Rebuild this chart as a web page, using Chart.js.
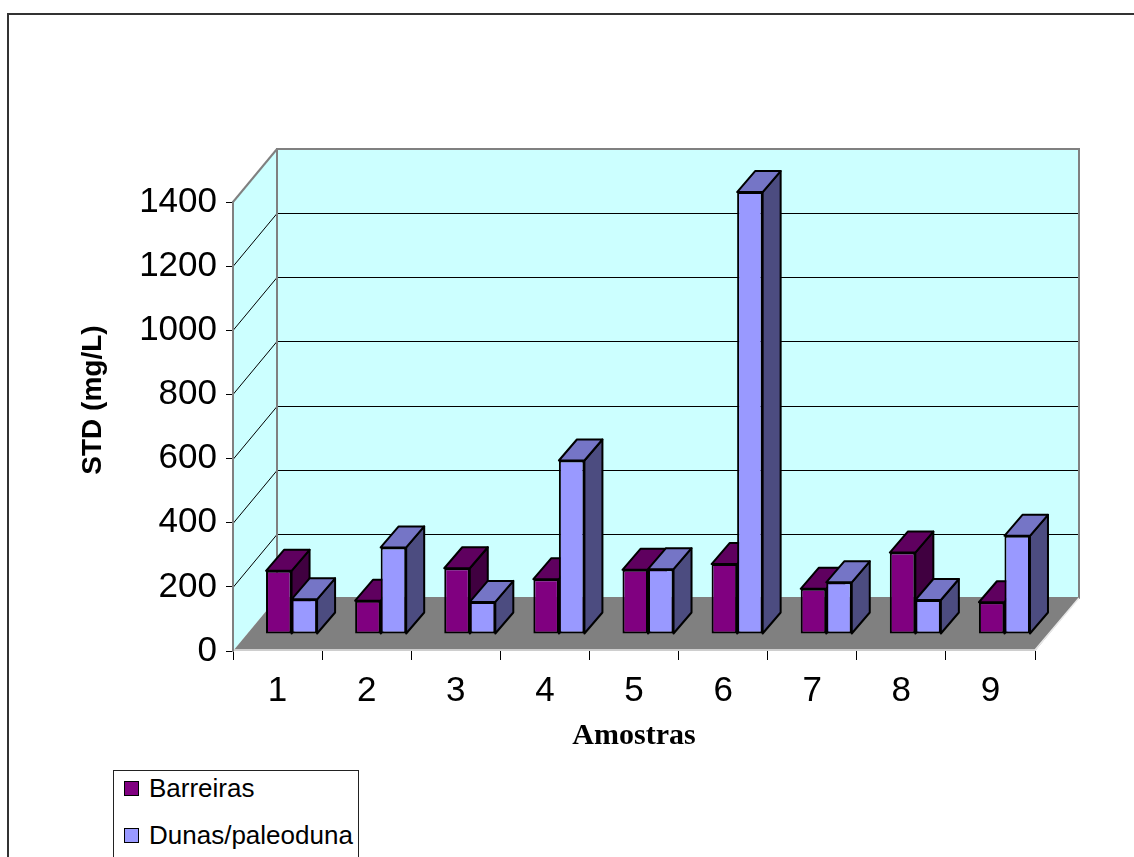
<!DOCTYPE html>
<html>
<head>
<meta charset="utf-8">
<title>STD por amostra</title>
<script src="https://cdn.jsdelivr.net/npm/chart.js@4.4.1/dist/chart.umd.min.js"></script>
<style>
  html, body { margin: 0; padding: 0; background: #fff; overflow: hidden; }
  #wrap { position: relative; width: 1134px; height: 857px; overflow: hidden; }
  #frame { position: absolute; left: 7px; top: 13px; width: 1200px; height: 900px; border: 2px solid #333; }
  #stdChart { position: absolute; left: 0; top: 0; }
  #legend {
    position: absolute; left: 113px; top: 770px; width: 244px; height: 120px;
    border: 1px solid #222; background: #fff;
    font: 26px Arial, "Liberation Sans", sans-serif; color: #000;
  }
  #legend .item { position: absolute; left: 10px; height: 26px; line-height: 26px; display: flex; align-items: center; white-space: nowrap; }
  #legend .box { width: 13px; height: 13px; border: 1px solid #000; margin-right: 10px; }
</style>
</head>
<body>
<div id="wrap">
  <div id="frame"></div>
  <canvas id="stdChart" width="1134" height="857"></canvas>
  <div id="legend"></div>
</div>
<script>
// Dados
const amostras = ['1', '2', '3', '4', '5', '6', '7', '8', '9'];
const barreiras = [197, 104, 205, 171, 200, 218, 141, 254, 99];
const dunas = [108, 270, 100, 541, 202, 1378, 161, 106, 306];
const yTicks = [0, 200, 400, 600, 800, 1000, 1200, 1400];

const seriesNames = ['Barreiras', 'Dunas/paleoduna'];
const frontColors = ['#800080', '#9999FF'];
const topColors = ['#5F005F', '#7575C6'];
const sideColors = ['#400040', '#4C4C80'];

// Geometria 3D (oblíqua)
const DEPTH_X = 44, DEPTH_Y = -53;   // profundidade do piso até a parede do fundo
const BAR_X = 14, BAR_Y = -17;       // deslocamento das colunas atrás da borda frontal
const BAR_DX = 18, BAR_DY = -21;     // profundidade de cada coluna

const FONT = 'Arial, "Liberation Sans", sans-serif';
Chart.defaults.font.family = FONT;
Chart.defaults.color = '#000';

function poly(ctx, pts, fill, stroke, lw) {
    ctx.beginPath();
    ctx.moveTo(pts[0][0], pts[0][1]);
    for (let i = 1; i < pts.length; i++) ctx.lineTo(pts[i][0], pts[i][1]);
    ctx.closePath();
    if (fill) { ctx.fillStyle = fill; ctx.fill(); }
    if (stroke) { ctx.strokeStyle = stroke; ctx.lineWidth = lw || 1; ctx.stroke(); }
}

function line(ctx, x1, y1, x2, y2, color, lw) {
    ctx.beginPath();
    ctx.moveTo(x1, y1);
    ctx.lineTo(x2, y2);
    ctx.strokeStyle = color;
    ctx.lineWidth = lw || 1;
    ctx.stroke();
}

// faces superior e lateral das colunas
function drawBarFaces(chart, dsIndex) {
    const ctx = chart.ctx;
    ctx.save();
    ctx.lineJoin = 'round';
    chart.getDatasetMeta(dsIndex).data.forEach(function(bar) {
        const p = bar.getProps(['x', 'y', 'base', 'width'], true);
        const l = p.x - p.width / 2 + BAR_X, r = p.x + p.width / 2 + BAR_X;
        const t = p.y + BAR_Y, b = p.base + BAR_Y;
        poly(ctx, [[r, t], [r + BAR_DX, t + BAR_DY], [r + BAR_DX, b + BAR_DY], [r, b]], sideColors[dsIndex], '#000', 2);
        poly(ctx, [[l, t], [l + BAR_DX, t + BAR_DY], [r + BAR_DX, t + BAR_DY], [r, t]], topColors[dsIndex], '#000', 2);
    });
    ctx.restore();
}

const box3d = {
    id: 'box3d',
    beforeDraw(chart) {
        const ctx = chart.ctx;
        const { left, right, top, bottom } = chart.chartArea;
        const yScale = chart.scales.y;
        ctx.save();
        // parede do fundo e parede lateral
        ctx.fillStyle = '#CCFFFF';
        ctx.fillRect(left + DEPTH_X, top + DEPTH_Y, right - left, bottom - top);
        poly(ctx, [[left, top], [left + DEPTH_X, top + DEPTH_Y], [left + DEPTH_X, bottom + DEPTH_Y], [left, bottom]], '#CCFFFF');

        // linhas de grade
        yTicks.forEach(function(v) {
            if (v === 0 || v === yTicks[yTicks.length - 1]) return;
            const py = Math.round(yScale.getPixelForValue(v)) + 0.5;
            line(ctx, left, py, left + DEPTH_X, py + DEPTH_Y, '#000', 1);
            line(ctx, left + DEPTH_X, py + DEPTH_Y, right + DEPTH_X, py + DEPTH_Y, '#000', 1);
        });

        // bordas das paredes
        ctx.lineJoin = 'miter';
        poly(ctx, [[left + DEPTH_X, top + DEPTH_Y], [right + DEPTH_X, top + DEPTH_Y], [right + DEPTH_X, bottom + DEPTH_Y], [left + DEPTH_X, bottom + DEPTH_Y]], null, '#808080', 2);
        line(ctx, left, top, left + DEPTH_X, top + DEPTH_Y, '#808080', 2);

        // piso
        poly(ctx, [[left, bottom], [right, bottom], [right + DEPTH_X, bottom + DEPTH_Y], [left + DEPTH_X, bottom + DEPTH_Y]], '#808080');
        line(ctx, left, bottom - 1, right, bottom - 1, '#E8E8E8', 1.5);
        line(ctx, right, bottom - 1, right + DEPTH_X, bottom + DEPTH_Y, '#E8E8E8', 1.5);
        ctx.restore();
    },
    beforeDatasetsDraw(chart) {
        drawBarFaces(chart, 0);
        chart.ctx.save();
        chart.ctx.translate(BAR_X, BAR_Y);
    },
    afterDatasetsDraw(chart) {
        chart.ctx.restore();
        drawBarFaces(chart, 1);
    },
    afterDraw(chart) {
        const ctx = chart.ctx;
        const { top, bottom } = chart.chartArea;
        ctx.save();
        ctx.translate(93, (top + DEPTH_Y + bottom) / 2);
        ctx.rotate(-Math.PI / 2);
        ctx.font = 'bold 28px ' + FONT;
        ctx.fillStyle = '#000';
        ctx.textAlign = 'center';
        ctx.textBaseline = 'middle';
        ctx.fillText('STD (mg/L)', 0, 0);
        ctx.restore();
    }
};

const seriesData = [barreiras, dunas];

new Chart(document.getElementById('stdChart'), {
    type: 'bar',
    data: {
        labels: amostras,
        datasets: seriesData.map(function(values, i) {
            return {
                label: seriesNames[i],
                data: values,
                backgroundColor: frontColors[i],
                borderColor: '#000',
                borderWidth: 2,
                borderSkipped: false,
                categoryPercentage: 0.573,
                barPercentage: 1.0,
                clip: false
            };
        })
    },
    options: {
        responsive: false,
        animation: false,
        devicePixelRatio: 1,
        layout: { padding: { left: 72, right: 99, top: 202, bottom: 99 } },
        plugins: {
            legend: { display: false },
            tooltip: { enabled: false }
        },
        scales: {
            x: {
                grid: { drawOnChartArea: false, tickLength: 9, color: '#000', offset: true },
                border: { display: false },
                ticks: { font: { size: 35 }, padding: 10, maxRotation: 0, autoSkip: false },
                title: {
                    display: true,
                    text: 'Amostras',
                    font: { family: '"Liberation Serif", "Times New Roman", serif', size: 30, weight: 'bold' },
                    padding: { top: 4, bottom: 4 }
                },
                afterFit: function(scale) { scale.height = 107; }
            },
            y: {
                min: 0,
                max: 1400,
                grid: { drawOnChartArea: false, tickLength: 7, color: '#000' },
                border: { color: '#808080', width: 2 },
                ticks: {
                    font: { size: 35 },
                    padding: 9,
                    callback: function(value) { return String(value); }
                },
                afterBuildTicks: function(scale) {
                    scale.ticks = yTicks.map(function(v) { return { value: v }; });
                },
                afterFit: function(scale) { scale.width = 161; }
            }
        }
    },
    plugins: [box3d]
});

// Legenda
const legend = document.getElementById('legend');
seriesNames.forEach(function(name, i) {
    const item = document.createElement('div');
    item.className = 'item';
    item.style.top = (4 + i * 47) + 'px';
    item.innerHTML = '<span class="box" style="background:' + frontColors[i] + '"></span>' + name;
    legend.appendChild(item);
});
</script>
</body>
</html>
